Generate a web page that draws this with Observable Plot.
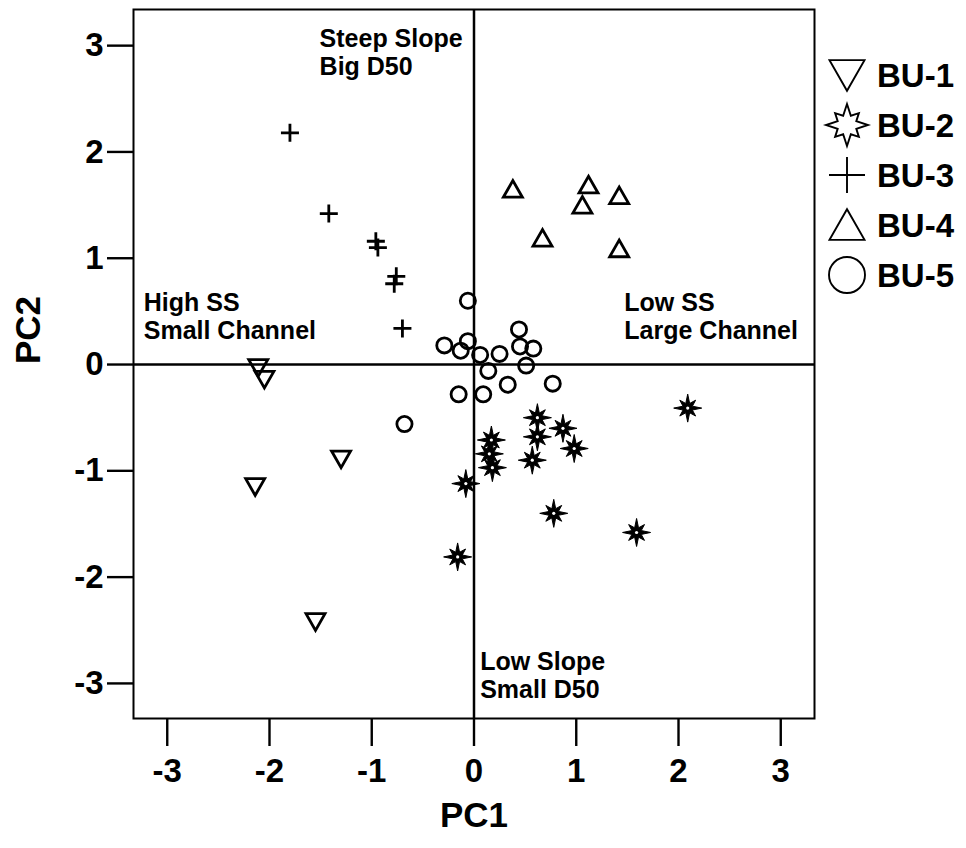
<!DOCTYPE html>
<html><head><meta charset="utf-8">
<script src="https://cdn.jsdelivr.net/npm/d3@7"></script>
<script src="https://cdn.jsdelivr.net/npm/@observablehq/plot@0.6"></script>
<style>
html,body{margin:0;padding:0;background:#fff;}
#wrap{position:relative;width:966px;height:848px;font-family:"Liberation Sans",Arial,sans-serif;font-weight:bold;}
</style></head><body><div id="wrap"></div>
<script>
// ---- data ----
const groups = ["BU-1","BU-2","BU-3","BU-4","BU-5"];
const bu1X = [-2.11,-2.05,-1.30,-2.14,-1.55];
const bu1Y = [-0.03,-0.14,-0.89,-1.15,-2.42];
const bu2X = [2.09,0.62,0.87,0.62,0.98,0.17,0.15,0.18,0.57,0.78,1.59,-0.08,-0.16];
const bu2Y = [-0.41,-0.50,-0.60,-0.68,-0.79,-0.71,-0.84,-0.97,-0.90,-1.40,-1.58,-1.12,-1.81];
const bu3X = [-1.80,-1.42,-0.96,-0.94,-0.76,-0.78,-0.70];
const bu3Y = [2.18,1.42,1.16,1.10,0.83,0.76,0.34];
const bu4X = [0.38,1.12,1.42,1.06,0.67,1.42];
const bu4Y = [1.65,1.69,1.59,1.50,1.19,1.09];
const bu5X = [-0.06,0.44,-0.29,-0.06,-0.13,0.06,0.25,0.45,0.58,0.51,0.14,0.33,0.77,-0.15,0.09,-0.68];
const bu5Y = [0.60,0.33,0.18,0.22,0.13,0.09,0.10,0.17,0.15,-0.01,-0.06,-0.19,-0.18,-0.28,-0.28,-0.56];
const xTicks = [-3,-2,-1,0,1,2,3];
const yTicks = [-3,-2,-1,0,1,2,3];
const annoText = ["Steep Slope\nBig D50","High SS\nSmall Channel","Low SS\nLarge Channel","Low Slope\nSmall D50"];
const annoX = [-1.51,-3.23,1.47,0.06];
const annoY = [3.17,0.69,0.69,-2.69];
const xTitle = "PC1";
const yTitle = "PC2";

// ---- symbols ----
const rOf = s => Math.sqrt(s / Math.PI);
const triDown = {draw(c, s){const r=rOf(s); c.moveTo(-r,-0.85*r); c.lineTo(r,-0.85*r); c.lineTo(0,0.9*r); c.closePath();}};
const triUp = {draw(c, s){const r=rOf(s); c.moveTo(-r,0.85*r); c.lineTo(r,0.85*r); c.lineTo(0,-0.9*r); c.closePath();}};
const plus = {draw(c, s){const r=rOf(s); c.moveTo(-r,0); c.lineTo(r,0); c.moveTo(0,-r); c.lineTo(0,r);}};
const ring = {draw(c, s){const r=rOf(s); c.moveTo(r,0); c.arc(0,0,r,0,2*Math.PI); c.closePath();}};
function makeStar(ratio, diag){
  return {draw(c, s){
    const R=rOf(s);
    for(let k=0;k<16;k++){
      const a = k*Math.PI/8 - Math.PI/2;
      let rr;
      if(k%2===1) rr = ratio*R; else rr = (k%4===0) ? R : diag*R;
      const px = rr*Math.cos(a), py = rr*Math.sin(a);
      if(k===0) c.moveTo(px,py); else c.lineTo(px,py);
    }
    c.closePath();
  }};
}
const starPlot = makeStar(0.36, 0.8);
const starLegend = makeStar(0.48, 0.8);

const toRows = (xs, ys) => xs.map((x,i)=>({x, y: ys[i]}));
const d1 = toRows(bu1X,bu1Y), d2 = toRows(bu2X,bu2Y), d3r = toRows(bu3X,bu3Y), d4 = toRows(bu4X,bu4Y), d5 = toRows(bu5X,bu5Y);
const annos = annoText.map((t,i)=>({t, x: annoX[i], y: annoY[i]}));

const chart = Plot.plot({
  width: 966, height: 848,
  marginLeft: 133, marginRight: 152, marginTop: 9, marginBottom: 130,
  x: {domain: [-3.33, 3.33]},
  y: {domain: [-3.33, 3.34]},
  style: {fontFamily: '"Liberation Sans", Arial, sans-serif', fontWeight: "bold", background: "white", color: "black"},
  marks: [
    Plot.frame({stroke: "black", strokeWidth: 2}),
    Plot.ruleX([0], {stroke: "black", strokeWidth: 2.5}),
    Plot.ruleY([0], {stroke: "black", strokeWidth: 2.5}),
    Plot.axisX({ticks: xTicks, tickSize: 28, tickPadding: 12, tickFormat: d => String(d), fontSize: 33, strokeWidth: 2.4, strokeOpacity: 1, label: null}),
    Plot.axisY({ticks: yTicks, tickSize: 26, tickPadding: 4, tickFormat: d => String(d), fontSize: 33, strokeWidth: 2.4, strokeOpacity: 1, label: null}),
    Plot.text([xTitle], {frameAnchor: "bottom", dy: 108, fontSize: 35, fontWeight: "bold"}),
    Plot.text([yTitle], {frameAnchor: "left", dx: -105, rotate: -90, fontSize: 35, fontWeight: "bold"}),
    Plot.text(annos, {x: "x", y: "y", text: "t", textAnchor: "start", lineAnchor: "top", lineHeight: 1.12, fontSize: 25, fontWeight: "bold"}),
    Plot.dot(d5, {x: "x", y: "y", symbol: ring, r: 7.6, stroke: "black", strokeWidth: 2.8, fill: "none"}),
    Plot.dot(d3r, {x: "x", y: "y", symbol: plus, r: 9, stroke: "black", strokeWidth: 2.8}),
    Plot.dot(d4, {x: "x", y: "y", symbol: triUp, r: 9.5, stroke: "black", strokeWidth: 2.8, fill: "none", strokeLinejoin: "miter"}),
    Plot.dot(d1, {x: "x", y: "y", symbol: triDown, r: 9.5, stroke: "black", strokeWidth: 2.8, fill: "none", strokeLinejoin: "miter"}),
    Plot.dot(d2, {x: "x", y: "y", symbol: starPlot, r: 14, fill: "black", stroke: "black", strokeWidth: 1}),
    Plot.dot(d2, {x: "x", y: "y", r: 1.6, fill: "white"})
  ]
});
document.getElementById("wrap").appendChild(chart);

// ---- legend ----
const legSyms = [triDown, starLegend, plus, triUp, ring];
const legR = [17.5, 21, 18, 17.5, 18];
const leg = d3.select("#wrap").append("svg")
  .attr("width", 966).attr("height", 848)
  .style("position", "absolute").style("left", "0px").style("top", "0px")
  .style("pointer-events", "none");
groups.forEach((g, i) => {
  const cy = 75 + i * 50;
  leg.append("path")
    .attr("d", d3.symbol(legSyms[i], Math.PI * legR[i] * legR[i])())
    .attr("transform", `translate(847,${cy})`)
    .attr("fill", "white").attr("stroke", "black").attr("stroke-width", 1.9);
  leg.append("text")
    .attr("x", 877).attr("y", cy).attr("dy", "0.36em")
    .attr("font-family", '"Liberation Sans", Arial, sans-serif')
    .attr("font-weight", "bold").attr("font-size", 33)
    .text(g);
});
</script></body></html>
